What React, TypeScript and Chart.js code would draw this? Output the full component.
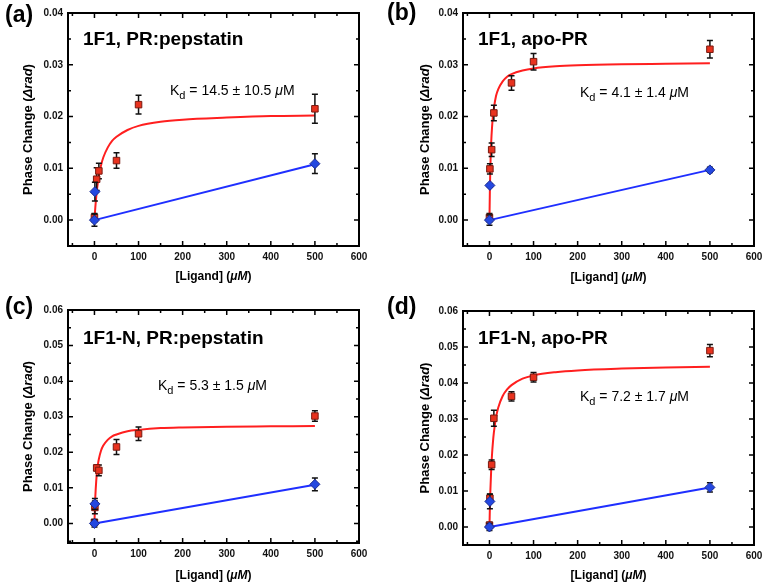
import React, { useEffect, useRef } from "react";
import { Chart, registerables } from "chart.js";

Chart.register(...registerables);

// ---------- data ----------
const xTickValues = [0, 100, 200, 300, 400, 500, 600];
const yTickValuesTop = [0, 0.01, 0.02, 0.03, 0.04];
const yTickValuesBottom = [0, 0.01, 0.02, 0.03, 0.04, 0.05, 0.06];

// fitted binding curves
const fitX = [0, 1, 2, 4, 6, 8, 10, 15, 20, 30, 40, 50, 75, 100, 150, 200, 300, 400, 500];
const fitA = [0, 0.0013, 0.0025, 0.0045, 0.0061, 0.0074, 0.0085, 0.0106, 0.0121, 0.014, 0.0153, 0.0161, 0.0174, 0.0182, 0.019, 0.0194, 0.0198, 0.0201, 0.0202];
const fitB = [0, 0.006, 0.01, 0.0151, 0.0181, 0.0202, 0.0216, 0.024, 0.0253, 0.0268, 0.0277, 0.0282, 0.0289, 0.0293, 0.0297, 0.0299, 0.0301, 0.0302, 0.0303];
const fitC = [0, 0.0044, 0.0076, 0.0119, 0.0147, 0.0167, 0.0181, 0.0205, 0.0219, 0.0235, 0.0245, 0.025, 0.0259, 0.0263, 0.0268, 0.027, 0.0272, 0.0273, 0.0274];
const fitD = [0, 0.0055, 0.0098, 0.0161, 0.0205, 0.0237, 0.0262, 0.0305, 0.0332, 0.0364, 0.0382, 0.0394, 0.0412, 0.0421, 0.043, 0.0435, 0.044, 0.0443, 0.0445];

// red squares (PR samples)
const redXA = [0, 5, 10, 50, 100, 500];
const redYA = [0.0005, 0.0079, 0.0095, 0.0115, 0.0223, 0.0215];
const redErrA = [0.0008, 0.0022, 0.0015, 0.0015, 0.0018, 0.0028];

const redX = [0, 1, 5, 10, 50, 100, 500];
const redYB = [0.0005, 0.0099, 0.0136, 0.0207, 0.0265, 0.0306, 0.033];
const redErrB = [0.0008, 0.001, 0.0013, 0.0015, 0.0014, 0.0016, 0.0017];
const redYC = [0.0003, 0.0045, 0.0156, 0.0149, 0.0215, 0.0252, 0.0302];
const redErrC = [0.0008, 0.0018, 0.0008, 0.0015, 0.0021, 0.0019, 0.0015];
const redYD = [0.0005, 0.008, 0.0173, 0.0302, 0.0363, 0.0416, 0.049];
const redErrD = [0.0008, 0.0012, 0.0013, 0.0022, 0.0013, 0.0013, 0.0017];

// blue diamonds (controls)
const blueX = [0, 1, 500];
const blueYA = [0, 0.0055, 0.0109];
const blueErrA = [0.0012, 0.0018, 0.0019];
const blueYB = [0, 0.0067, 0.0097];
const blueErrB = [0.001, 0.0003, 0.0005];
const blueYC = [0, 0.0055, 0.011];
const blueErrC = [0.001, 0.0015, 0.0018];
const blueYD = [0, 0.0071, 0.011];
const blueErrD = [0.001, 0.002, 0.0013];

// blue linear lines
const blueLineX = [0, 500];
const blueLineA = [0, 0.0108];
const blueLineB = [0, 0.0097];
const blueLineC = [0, 0.0109];
const blueLineD = [0, 0.011];

// ---------- styling ----------
const FONT = '"Liberation Sans", Arial, Helvetica, sans-serif';
const RED_LINE = "#ff1f1f";
const RED_FILL = "#e8321e";
const RED_EDGE = "#7a1a10";
const BLUE_LINE = "#1f2fff";
const BLUE_FILL = "#2448e0";
const BLUE_EDGE = "#1a2a90";

const panels = [
  {
    key: "a", x: 0, y: 0, w: 385, h: 294,
    area: { l: 68, t: 13, r: 359, b: 246 },
    yMin: -0.005, yMax: 0.04, yTicks: yTickValuesTop,
    yTitleX: 28.5, xTitleY: 277,
    label: "(a)", labelPos: [5, 22],
    title: "1F1, PR:pepstatin", titlePos: [83, 45],
    kd: "14.5 \u00b1 10.5", kdPos: [170, 95],
    fit: fitA, redX: redXA, redY: redYA, redErr: redErrA,
    blueY: blueYA, blueErr: blueErrA, blueLine: blueLineA,
  },
  {
    key: "b", x: 385, y: 0, w: 384, h: 294,
    area: { l: 78, t: 13, r: 369, b: 246 },
    yMin: -0.005, yMax: 0.04, yTicks: yTickValuesTop,
    yTitleX: 40, xTitleY: 278,
    label: "(b)", labelPos: [2, 20],
    title: "1F1, apo-PR", titlePos: [93, 45],
    kd: "4.1 \u00b1 1.4", kdPos: [195, 97],
    fit: fitB, redX: redX, redY: redYB, redErr: redErrB,
    blueY: blueYB, blueErr: blueErrB, blueLine: blueLineB,
  },
  {
    key: "c", x: 0, y: 294, w: 385, h: 294,
    area: { l: 68, t: 16, r: 359, b: 249 },
    yMin: -0.0055, yMax: 0.06, yTicks: yTickValuesBottom,
    yTitleX: 28, xTitleY: 282,
    label: "(c)", labelPos: [5, 20],
    title: "1F1-N, PR:pepstatin", titlePos: [83, 50],
    kd: "5.3 \u00b1 1.5", kdPos: [158, 96],
    fit: fitC, redX: redX, redY: redYC, redErr: redErrC,
    blueY: blueYC, blueErr: blueErrC, blueLine: blueLineC,
  },
  {
    key: "d", x: 385, y: 294, w: 384, h: 294,
    area: { l: 78, t: 17, r: 369, b: 251 },
    yMin: -0.005, yMax: 0.06, yTicks: yTickValuesBottom,
    yTitleX: 40, xTitleY: 282,
    label: "(d)", labelPos: [2, 20],
    title: "1F1-N, apo-PR", titlePos: [93, 50],
    kd: "7.2 \u00b1 1.7", kdPos: [195, 107],
    fit: fitD, redX: redX, redY: redYD, redErr: redErrD,
    blueY: blueYD, blueErr: blueErrD, blueLine: blueLineD,
  },
];

type Run = { text: string; font: string; dy?: number };

function drawRuns(ctx: CanvasRenderingContext2D, runs: Run[], x: number, y: number, center: boolean) {
  let total = 0;
  const widths: number[] = [];
  for (const r of runs) {
    ctx.font = r.font;
    const w = ctx.measureText(r.text).width;
    widths.push(w);
    total += w;
  }
  let cx = center ? x - total / 2 : x;
  runs.forEach((r, i) => {
    ctx.font = r.font;
    ctx.fillText(r.text, cx, y + (r.dy || 0));
    cx += widths[i];
  });
}

const errorBarPlugin = {
  id: "errorBars",
  beforeDatasetDraw(chart: any, args: any) {
    const ds = chart.data.datasets[args.index];
    if (!ds.errors) return;
    const ctx = chart.ctx;
    const xs = chart.scales.x;
    const ys = chart.scales.y;
    ctx.save();
    ctx.strokeStyle = "#111";
    ctx.lineWidth = 1.5;
    ds.data.forEach((p: any, i: number) => {
      const e = ds.errors[i];
      const px = xs.getPixelForValue(p.x);
      const top = ys.getPixelForValue(p.y + e);
      const bot = ys.getPixelForValue(p.y - e);
      ctx.beginPath();
      ctx.moveTo(px, top);
      ctx.lineTo(px, bot);
      ctx.moveTo(px - 3, top);
      ctx.lineTo(px + 3, top);
      ctx.moveTo(px - 3, bot);
      ctx.lineTo(px + 3, bot);
      ctx.stroke();
    });
    ctx.restore();
  },
};

function minorValues(majors: number[], min: number, max: number) {
  const step = majors[1] - majors[0];
  const out: number[] = [];
  const cand = majors.map((m) => m - step / 2).concat([majors[majors.length - 1] + step / 2]);
  for (const v of cand) {
    if (v > min + step * 1e-3 && v < max - step * 1e-3) out.push(v);
  }
  return out;
}

const decorPlugin = {
  id: "panelDecor",
  afterDraw(chart: any, _args: any, opts: any) {
    const ctx: CanvasRenderingContext2D = chart.ctx;
    const { left, right, top, bottom } = chart.chartArea;
    const xs = chart.scales.x;
    const ys = chart.scales.y;
    ctx.save();
    ctx.strokeStyle = "#000";
    // inward ticks
    const drawTicks = (vals: number[], len: number, lw: number) => {
      ctx.lineWidth = lw;
      ctx.beginPath();
      return vals;
    };
    const xMaj = opts.xTicks as number[];
    const xMin = minorValues(xMaj, xs.min, xs.max);
    const yMaj = opts.yTicks as number[];
    const yMin = minorValues(yMaj, ys.min, ys.max);
    const tickSet: [number[], number][] = [[xMaj, 5], [xMin, 3]];
    for (const [vals, len] of tickSet) {
      drawTicks(vals, len, 1.5);
      for (const v of vals) {
        const px = xs.getPixelForValue(v);
        ctx.moveTo(px, bottom);
        ctx.lineTo(px, bottom - len);
        ctx.moveTo(px, top);
        ctx.lineTo(px, top + len);
      }
      ctx.stroke();
    }
    const ySet: [number[], number][] = [[yMaj, 5], [yMin, 3]];
    for (const [vals, len] of ySet) {
      drawTicks(vals, len, 1.5);
      for (const v of vals) {
        const py = ys.getPixelForValue(v);
        ctx.moveTo(left, py);
        ctx.lineTo(left + len, py);
        ctx.moveTo(right, py);
        ctx.lineTo(right - len, py);
      }
      ctx.stroke();
    }
    // frame
    ctx.lineWidth = 2;
    ctx.strokeRect(left, top, right - left, bottom - top);

    // texts
    ctx.fillStyle = "#000";
    ctx.textBaseline = "alphabetic";
    ctx.textAlign = "left";
    ctx.font = `bold 23px ${FONT}`;
    ctx.fillText(opts.label, opts.labelPos[0], opts.labelPos[1]);
    ctx.font = `bold 19px ${FONT}`;
    ctx.fillText(opts.title, opts.titlePos[0], opts.titlePos[1]);
    drawRuns(
      ctx,
      [
        { text: "K", font: `14px ${FONT}` },
        { text: "d", font: `11px ${FONT}`, dy: 4 },
        { text: ` = ${opts.kd} `, font: `14px ${FONT}` },
        { text: "\u03bc", font: `italic 14px ${FONT}` },
        { text: "M", font: `14px ${FONT}` },
      ],
      opts.kdPos[0],
      opts.kdPos[1],
      false
    );

    // axis titles
    ctx.textBaseline = "middle";
    drawRuns(
      ctx,
      [
        { text: "[Ligand] (", font: `bold 12px ${FONT}` },
        { text: "\u03bcM", font: `bold italic 12px ${FONT}` },
        { text: ")", font: `bold 12px ${FONT}` },
      ],
      (left + right) / 2,
      opts.xTitleY,
      true
    );
    ctx.save();
    ctx.translate(opts.yTitleX, (top + bottom) / 2);
    ctx.rotate(-Math.PI / 2);
    drawRuns(
      ctx,
      [
        { text: "Phase Change (", font: `bold 13px ${FONT}` },
        { text: "\u0394rad", font: `bold italic 13px ${FONT}` },
        { text: ")", font: `bold 13px ${FONT}` },
      ],
      0,
      0,
      true
    );
    ctx.restore();
    ctx.restore();
  },
};

function Panel({ cfg }: { cfg: any }) {
  const ref = useRef<HTMLCanvasElement | null>(null);
  useEffect(() => {
    if (!ref.current) return;
    const toPts = (xs: number[], ys: number[]) => xs.map((x, i) => ({ x, y: ys[i] }));
    const chart = new Chart(ref.current, {
      type: "scatter",
      data: {
        datasets: [
          {
            label: "control",
            data: toPts(blueX, cfg.blueY),
            errors: cfg.blueErr,
            pointStyle: "rectRot",
            pointRadius: 5,
            backgroundColor: BLUE_FILL,
            borderColor: BLUE_EDGE,
            borderWidth: 1,
            showLine: false,
          } as any,
          {
            label: "PR",
            data: toPts(cfg.redX, cfg.redY),
            errors: cfg.redErr,
            pointStyle: "rect",
            pointRadius: 4.6,
            backgroundColor: RED_FILL,
            borderColor: RED_EDGE,
            borderWidth: 1,
            showLine: false,
          } as any,
          {
            label: "control fit",
            data: toPts(blueLineX, cfg.blueLine),
            showLine: true,
            pointRadius: 0,
            borderColor: BLUE_LINE,
            borderWidth: 2,
            fill: false,
          },
          {
            label: "PR fit",
            data: toPts(fitX, cfg.fit),
            showLine: true,
            pointRadius: 0,
            borderColor: RED_LINE,
            borderWidth: 2,
            tension: 0.4,
            cubicInterpolationMode: "monotone",
            fill: false,
          },
        ],
      },
      options: {
        responsive: false,
        animation: false,
        events: [],
        layout: {
          padding: { left: 0, top: cfg.area.t, right: cfg.w - cfg.area.r, bottom: 0 },
        },
        plugins: {
          legend: { display: false },
          tooltip: { enabled: false },
          panelDecor: {
            label: cfg.label,
            labelPos: cfg.labelPos,
            title: cfg.title,
            titlePos: cfg.titlePos,
            kd: cfg.kd,
            kdPos: cfg.kdPos,
            xTitleY: cfg.xTitleY,
            yTitleX: cfg.yTitleX,
            xTicks: xTickValues,
            yTicks: cfg.yTicks,
          },
        } as any,
        scales: {
          x: {
            type: "linear",
            min: -60,
            max: 600,
            afterBuildTicks: (s: any) => {
              s.ticks = xTickValues.map((v) => ({ value: v }));
            },
            afterFit: (s: any) => {
              s.height = cfg.h - cfg.area.b;
            },
            grid: { display: false, drawTicks: false },
            border: { display: false },
            ticks: {
              autoSkip: false,
              maxRotation: 0,
              padding: 5,
              color: "#111",
              font: { family: FONT, size: 10, weight: "bold" },
              callback: (v: any) => String(v),
            },
          },
          y: {
            type: "linear",
            min: cfg.yMin,
            max: cfg.yMax,
            afterBuildTicks: (s: any) => {
              s.ticks = cfg.yTicks.map((v: number) => ({ value: v }));
            },
            afterFit: (s: any) => {
              s.width = cfg.area.l;
            },
            grid: { display: false, drawTicks: false },
            border: { display: false },
            ticks: {
              autoSkip: false,
              padding: 5,
              color: "#111",
              font: { family: FONT, size: 10, weight: "bold" },
              callback: (v: any) => Number(v).toFixed(2),
            },
          },
        },
      },
      plugins: [errorBarPlugin, decorPlugin],
    } as any);
    return () => chart.destroy();
  }, [cfg]);
  return (
    <canvas
      ref={ref}
      width={cfg.w}
      height={cfg.h}
      style={{ position: "absolute", left: cfg.x, top: cfg.y, width: cfg.w, height: cfg.h, display: "block" }}
    />
  );
}

export default function App() {
  return (
    <div style={{ position: "absolute", left: 0, top: 0, width: 769, height: 588, background: "#fff" }}>
      {panels.map((p) => (
        <Panel key={p.key} cfg={p} />
      ))}
    </div>
  );
}
